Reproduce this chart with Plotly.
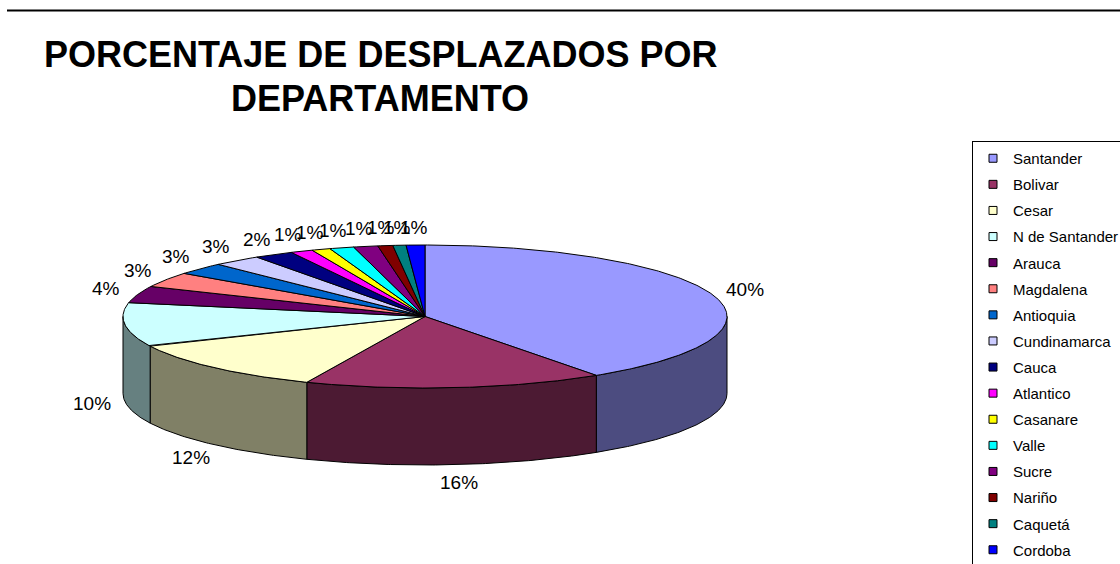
import numpy as np
import plotly.graph_objects as go

# ---- data ----
departamentos = ["Santander", "Bolivar", "Cesar", "N de Santander", "Arauca", "Magdalena",
                 "Antioquia", "Cundinamarca", "Cauca", "Atlantico", "Casanare", "Valle",
                 "Sucre", "Nariño", "Caquetá", "Cordoba"]
porcentajes = [40.4, 16.0, 11.8, 9.9, 3.8, 3.4, 2.7, 2.6, 2.1, 1.2, 1.0, 1.3, 1.3, 0.8, 0.7, 1.0]
colores = ["#9999FF", "#993366", "#FFFFCC", "#CCFFFF", "#660066", "#FF8080", "#0066CC", "#CCCCFF",
           "#000080", "#FF00FF", "#FFFF00", "#00FFFF", "#800080", "#800000", "#008080", "#0000FF"]
titulo = ["PORCENTAJE DE DESPLAZADOS POR", "DEPARTAMENTO"]

# ---- geometry (pixel-like data space) ----
W, H = 1120, 564
CX, CY, A, B, DEPTH = 425, 316.5, 302, 71.5, 77
FONT = "Liberation Sans, Arial, sans-serif"


def darken(hexcol, f=0.5):
    h = hexcol.lstrip("#")
    r, g, b = (int(h[i:i + 2], 16) for i in (0, 2, 4))
    return "#%02X%02X%02X" % (round(r * f), round(g * f), round(b * f))


def arc(t1, t2):
    n = max(2, int(abs(t2 - t1) / 0.5) + 1)
    th = np.radians(np.linspace(t1, t2, n))
    return CX + A * np.sin(th), CY - B * np.cos(th)


total = sum(porcentajes)
angles = np.concatenate([[0], np.cumsum(porcentajes) / total * 360.0])

fig = go.Figure()

# side walls (front half only)
for i, (name, col) in enumerate(zip(departamentos, colores)):
    t1, t2 = angles[i], angles[i + 1]
    lo, hi = max(t1, 90), min(t2, 270)
    if hi > lo:
        xs, ys = arc(lo, hi)
        px = list(xs) + list(xs[::-1]) + [xs[0]]
        py = list(ys) + list((ys + DEPTH)[::-1]) + [ys[0]]
        fig.add_trace(go.Scatter(x=px, y=py, mode="lines", fill="toself",
                                 fillcolor=darken(col), line=dict(color="black", width=1),
                                 legendgroup=name, showlegend=False, hoverinfo="skip"))

# top faces
for i, (name, col) in enumerate(zip(departamentos, colores)):
    xs, ys = arc(angles[i], angles[i + 1])
    px = [CX] + list(xs) + [CX]
    py = [CY] + list(ys) + [CY]
    fig.add_trace(go.Scatter(x=px, y=py, mode="lines", fill="toself", fillcolor=col,
                             line=dict(color="black", width=1), legendgroup=name,
                             showlegend=False, name=name,
                             hovertemplate=f"{name}: {porcentajes[i]}%<extra></extra>"))

# legend entries
for name, col in zip(departamentos, colores):
    fig.add_trace(go.Scatter(x=[None], y=[None], mode="markers", name=name, legendgroup=name,
                             marker=dict(symbol="square", size=8, color=col,
                                         line=dict(color="black", width=1))))

# percentage labels
for i, v in enumerate(porcentajes):
    mid = np.radians((angles[i] + angles[i + 1]) / 2)
    lx = CX + (A + 33) * np.sin(mid)
    ly = CY - (B + 18) * np.cos(mid)
    if np.cos(mid) < 0:
        ly += DEPTH
    fig.add_annotation(x=lx, y=ly, text=f"{round(v / total * 100)}%", showarrow=False,
                       font=dict(family=FONT, size=19, color="black"),
                       xanchor="center", yanchor="middle")

# title
fig.add_annotation(x=380, y=54, text=titulo[0], showarrow=False, xanchor="center",
                   yanchor="middle", font=dict(family=FONT, size=36, color="black", weight="bold"))
fig.add_annotation(x=380, y=98, text=titulo[1], showarrow=False, xanchor="center",
                   yanchor="middle", font=dict(family=FONT, size=36, color="black", weight="bold"))

# top rule line
fig.add_shape(type="line", x0=7, x1=W, y0=10.5, y1=10.5, xref="x", yref="y",
              line=dict(color="black", width=2))

fig.update_layout(
    width=W, height=H,
    margin=dict(l=0, r=0, t=0, b=0, autoexpand=False),
    paper_bgcolor="white", plot_bgcolor="white",
    xaxis=dict(range=[0, W], visible=False, fixedrange=True),
    yaxis=dict(range=[H, 0], visible=False, fixedrange=True),
    showlegend=True,
    legend=dict(x=972 / W, y=1 - 141 / H, xanchor="left", yanchor="top",
                bordercolor="black", borderwidth=1, bgcolor="white",
                font=dict(family=FONT, size=15, color="black"),
                traceorder="grouped", tracegroupgap=3.6, itemwidth=30),
)

fig.write_html("out.html", config={"displayModeBar": False},
               post_script="document.body.style.margin='0';document.body.style.overflow='hidden';")
